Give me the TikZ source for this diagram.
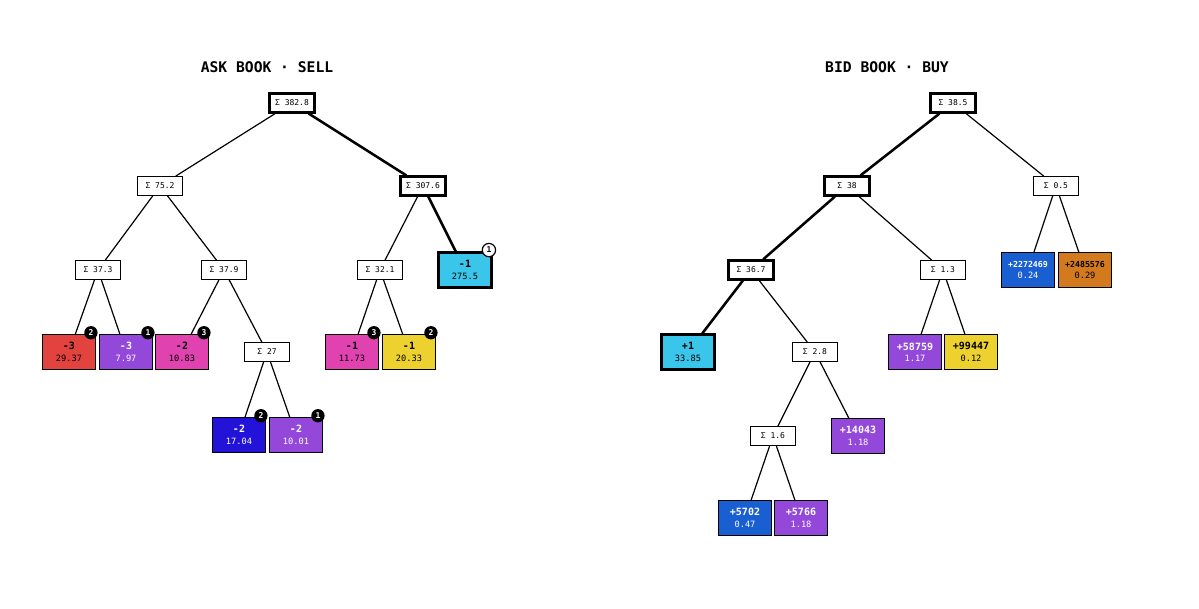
\documentclass[tikz,border=0pt]{standalone}
\usepackage{fontspec}
\setmainfont{DejaVu Sans Mono}
\usetikzlibrary{positioning}
\definecolor{cRed}{HTML}{E2433F}
\definecolor{cPurple}{HTML}{9348DA}
\definecolor{cPink}{HTML}{E043B0}
\definecolor{cYellow}{HTML}{ECD12F}
\definecolor{cIndigo}{HTML}{2312D8}
\definecolor{cCyan}{HTML}{3AC6EA}
\definecolor{cBlue}{HTML}{1A5FD2}
\definecolor{cOrange}{HTML}{D37A1F}
\tikzset{
  every path/.style={line width=0.9pt},
  sum/.style={draw=black, fill=white, line width=0.9pt, minimum width=34pt, minimum height=14pt, inner sep=1pt, font=\fontsize{6}{7}\selectfont},
  sumhot/.style={sum, line width=1.9pt},
  leaf/.style={draw=black, line width=0.9pt, minimum width=40pt, minimum height=26pt, inner sep=1pt, align=center, font=\fontsize{6.5}{8.5}\selectfont},
  hot/.style={line width=1.9pt},
  badge/.style={circle, fill=black, text=white, inner sep=0pt, minimum size=10pt, font=\bfseries\fontsize{6}{6}\selectfont},
  wbadge/.style={badge, fill=white, text=black, draw=black, line width=0.9pt},
  title/.style={font=\bfseries\fontsize{11}{13}\selectfont}
}
\newcommand{\lf}[2]{{\bfseries\fontsize{7.5}{9}\selectfont #1}\\#2}
\newcommand{\lfs}[2]{{\bfseries\fontsize{6.2}{8}\selectfont #1}\\#2}
\begin{document}
\begin{tikzpicture}[x=0.75pt,y=0.75pt,yscale=-1,xscale=1]
\useasboundingbox (0,0) rectangle (1199,609);

%ask side
\node[title] at (267,67) {ASK BOOK · SELL};
\node[sumhot] (a) at (292,103) {Σ 382.8};
\node[sum] (a1) at (160,186) {Σ 75.2};
\node[sumhot] (a2) at (423,186) {Σ 307.6};
\node[sum] (a11) at (98,270) {Σ 37.3};
\node[sum] (a12) at (224,270) {Σ 37.9};
\node[sum] (a21) at (380,270) {Σ 32.1};
\node[leaf, fill=cCyan, line width=1.9pt] (a22) at (465,270) {\lf{-1}{275.5}};
\node[leaf, fill=cRed] (a111) at (69,352) {\lf{-3}{29.37}};
\node[leaf, fill=cPurple, text=white] (a112) at (126,352) {\lf{-3}{7.97}};
\node[leaf, fill=cPink] (a121) at (182,352) {\lf{-2}{10.83}};
\node[sum] (a122) at (267,352) {Σ 27};
\node[leaf, fill=cPink] (a211) at (352,352) {\lf{-1}{11.73}};
\node[leaf, fill=cYellow] (a212) at (409,352) {\lf{-1}{20.33}};
\node[leaf, fill=cIndigo, text=white] (a1221) at (239,435) {\lf{-2}{17.04}};
\node[leaf, fill=cPurple, text=white] (a1222) at (296,435) {\lf{-2}{10.01}};

\draw (a) -- (a1);
\draw[hot] (a) -- (a2);
\draw (a1) -- (a11);
\draw (a1) -- (a12);
\draw (a2) -- (a21);
\draw[hot] (a2) -- (a22);
\draw (a11) -- (a111);
\draw (a11) -- (a112);
\draw (a12) -- (a121);
\draw (a12) -- (a122);
\draw (a21) -- (a211);
\draw (a21) -- (a212);
\draw (a122) -- (a1221);
\draw (a122) -- (a1222);

\node[wbadge] (g22) at ([xshift=-3pt,yshift=-1pt]a22.north east) {1};
\node[badge] (g111) at ([xshift=-4pt,yshift=-1pt]a111.north east) {2};
\node[badge] (g112) at ([xshift=-4pt,yshift=-1pt]a112.north east) {1};
\node[badge] (g121) at ([xshift=-4pt,yshift=-1pt]a121.north east) {3};
\node[badge] (g211) at ([xshift=-4pt,yshift=-1pt]a211.north east) {3};
\node[badge] (g212) at ([xshift=-4pt,yshift=-1pt]a212.north east) {2};
\node[badge] (g1221) at ([xshift=-4pt,yshift=-1pt]a1221.north east) {2};
\node[badge] (g1222) at ([xshift=-4pt,yshift=-1pt]a1222.north east) {1};

%bid side
\node[title] at (887,67) {BID BOOK · BUY};
\node[sumhot] (b) at (953,103) {Σ 38.5};
\node[sumhot] (b1) at (847,186) {Σ 38};
\node[sum] (b2) at (1056,186) {Σ 0.5};
\node[sumhot] (b11) at (751,270) {Σ 36.7};
\node[sum] (b12) at (943,270) {Σ 1.3};
\node[leaf, fill=cBlue, text=white] (b21) at (1028,270) {\lfs{+2272469}{0.24}};
\node[leaf, fill=cOrange] (b22) at (1085,270) {\lfs{+2485576}{0.29}};
\node[leaf, fill=cCyan, line width=1.9pt] (b111) at (688,352) {\lf{+1}{33.85}};
\node[sum] (b112) at (815,352) {Σ 2.8};
\node[leaf, fill=cPurple, text=white] (b121) at (915,352) {\lf{+58759}{1.17}};
\node[leaf, fill=cYellow] (b122) at (971,352) {\lf{+99447}{0.12}};
\node[sum] (b1121) at (773,436) {Σ 1.6};
\node[leaf, fill=cPurple, text=white] (b1122) at (858,436) {\lf{+14043}{1.18}};
\node[leaf, fill=cBlue, text=white] (b11211) at (745,518) {\lf{+5702}{0.47}};
\node[leaf, fill=cPurple, text=white] (b11212) at (801,518) {\lf{+5766}{1.18}};

\draw[hot] (b) -- (b1);
\draw (b) -- (b2);
\draw[hot] (b1) -- (b11);
\draw (b1) -- (b12);
\draw (b2) -- (b21);
\draw (b2) -- (b22);
\draw[hot] (b11) -- (b111);
\draw (b11) -- (b112);
\draw (b12) -- (b121);
\draw (b12) -- (b122);
\draw (b112) -- (b1121);
\draw (b112) -- (b1122);
\draw (b1121) -- (b11211);
\draw (b1121) -- (b11212);
\end{tikzpicture}
\end{document}
